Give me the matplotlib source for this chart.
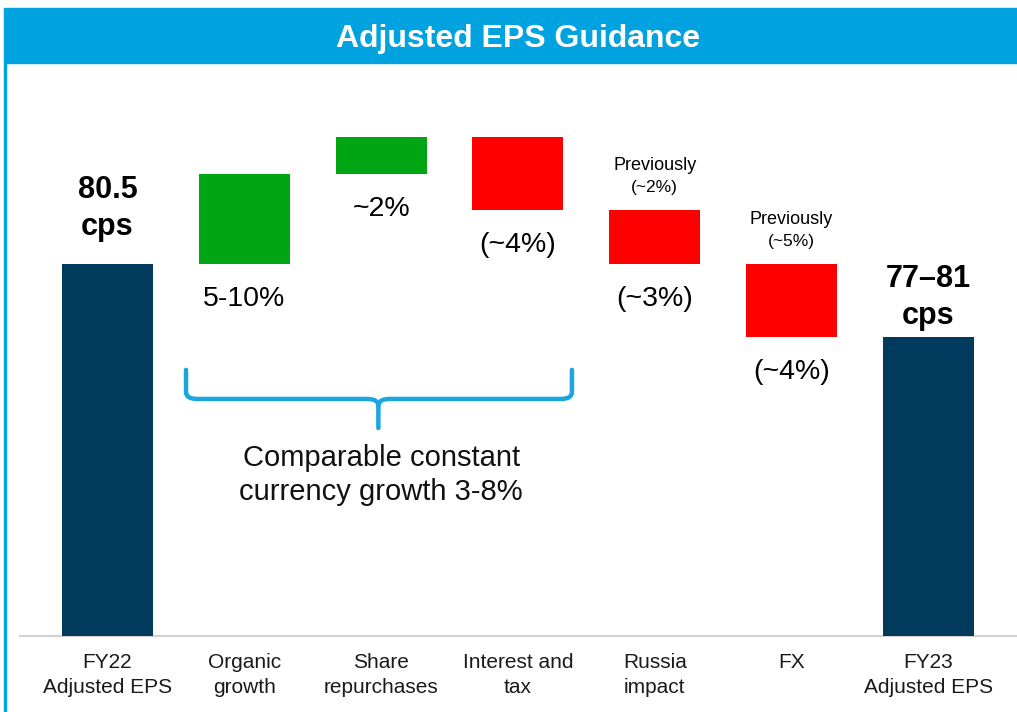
import numpy as np
import matplotlib.pyplot as plt
from matplotlib.patches import Rectangle, PathPatch
from matplotlib.path import Path

plt.rcParams['font.family'] = ['Liberation Sans', 'DejaVu Sans']

# datos (alturas esquemáticas de la cascada, como en la diapositiva)
categorias = ["FY22\nAdjusted EPS", "Organic\ngrowth", "Share\nrepurchases",
              "Interest and\ntax", "Russia\nimpact", "FX", "FY23\nAdjusted EPS"]
inicio = 80.5
pasos = [19.5, 8.0, -15.8, -11.7, -15.8]
etiquetas_pasos = ["5-10%", "~2%", "(~4%)", "(~3%)", "(~4%)"]
etiquetas_totales = ["80.5\ncps", "77–81\ncps"]
previos = {3: "(~2%)", 4: "(~5%)"}  # índice del paso -> guía anterior

AZUL = "#00A3E0"
MARINO = "#003A5C"
VERDE = "#00A514"
ROJO = "#FF0000"

fig = plt.figure(figsize=(10.17, 7.12), dpi=100)
W, H = 1017, 712
ax = fig.add_axes([39.1 / W, 76 / H, 957.6 / W, 536 / H])

# cascada
acumulado = np.concatenate([[inicio], inicio + np.cumsum(pasos)])
fin = acumulado[-1]
x = np.arange(len(categorias))
ancho = 0.665

ax.bar(x[0], inicio, width=ancho, color=MARINO, zorder=2)
ax.bar(x[-1], fin, width=ancho, color=MARINO, zorder=2)
for i, p in enumerate(pasos):
    base = acumulado[i] if p > 0 else acumulado[i + 1]
    ax.bar(x[i + 1], abs(p), bottom=base, width=ancho,
           color=VERDE if p > 0 else ROJO, zorder=2)

ax.set_xlim(-0.5, len(categorias) - 0.5)
ax.set_ylim(0, 116)
ax.axis("off")

# linea base gris
ax.plot([-0.64, 6.88], [0, 0], color="#D3D3D3", lw=1.6, zorder=1, clip_on=False)

# etiquetas de categoría
for xi, c in zip(x, categorias):
    ax.annotate(c, (xi, 0), xytext=(0, -12), textcoords="offset points",
                ha="center", va="top", fontsize=15, color="#1a1a1a",
                linespacing=1.4)

# etiquetas de los totales (negrita, encima)
ax.annotate(etiquetas_totales[0], (x[0], inicio), xytext=(0, 40),
            textcoords="offset points", ha="center", va="center",
            fontsize=22, fontweight="bold", linespacing=1.3)
ax.annotate(etiquetas_totales[1], (x[-1], fin), xytext=(0, 28.5),
            textcoords="offset points", ha="center", va="center",
            fontsize=22, fontweight="bold", linespacing=1.3)

# etiquetas de los pasos (debajo de cada barra)
for i, (p, t) in enumerate(zip(pasos, etiquetas_pasos)):
    abajo = min(acumulado[i], acumulado[i + 1])
    arriba = max(acumulado[i], acumulado[i + 1])
    ax.annotate(t, (x[i + 1], abajo), xytext=(0, -25),
                textcoords="offset points", ha="center", va="center",
                fontsize=20.5)
    if i in previos:
        ax.annotate("Previously", (x[i + 1], arriba), xytext=(0, 32),
                    textcoords="offset points", ha="center", va="center",
                    fontsize=13)
        ax.annotate(previos[i], (x[i + 1], arriba), xytext=(0, 16.5),
                    textcoords="offset points", ha="center", va="center",
                    fontsize=12.5)

# llave bajo los pasos de crecimiento constante
xl, xr, xm = 0.574, 3.395, 1.98
yt, yh, yb = 57.6, 51.3, 45.0
r = 0.08
verts = [(xl, yt), (xl, yh + 1.5), (xl, yh), (xl + r, yh),
         (xm - r, yh), (xm, yh), (xm, yh - 1.5), (xm, yb)]
codes = [Path.MOVETO, Path.LINETO, Path.CURVE3, Path.CURVE3,
         Path.LINETO, Path.CURVE3, Path.CURVE3, Path.LINETO]
verts2 = [(xr, yt), (xr, yh + 1.5), (xr, yh), (xr - r, yh),
          (xm + r, yh), (xm, yh), (xm, yh - 1.5)]
codes2 = [Path.MOVETO, Path.LINETO, Path.CURVE3, Path.CURVE3,
          Path.LINETO, Path.CURVE3, Path.CURVE3]
for v, c in [(verts, codes), (verts2, codes2)]:
    ax.add_patch(PathPatch(Path(v, c), fill=False, edgecolor="#1BA6DF",
                           lw=3.2, capstyle="round", joinstyle="round",
                           clip_on=False))
ax.text(2.0, 34.8, "Comparable constant\ncurrency growth 3-8%", ha="center",
        va="center", fontsize=21, linespacing=1.27, color="#111111")

# banda de título y borde izquierdo
fig.add_artist(Rectangle((4 / W, 1 - 63 / H), 1 - 4 / W, 55 / H,
                         transform=fig.transFigure, color=AZUL, zorder=0))
fig.add_artist(Rectangle((4 / W, 0), 2.2 / W, 1 - 63 / H,
                         transform=fig.transFigure, color=AZUL, zorder=0))
fig.text(518 / W, 1 - 39 / H, "Adjusted EPS Guidance", ha="center",
         va="center", fontsize=23, fontweight="bold", color="white")

plt.savefig("out.png", dpi=100)
